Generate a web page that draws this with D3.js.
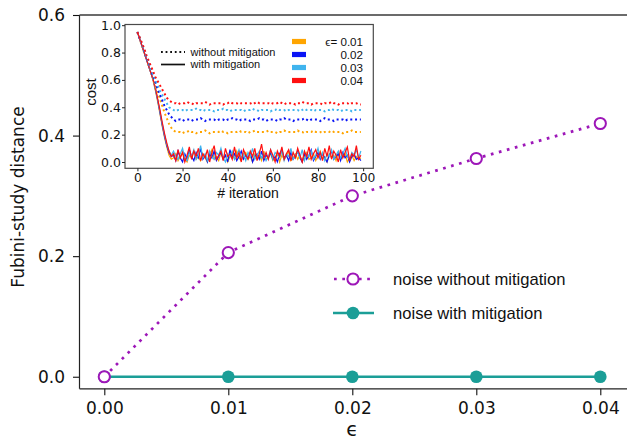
<!DOCTYPE html>
<html><head><meta charset="utf-8">
<script src="https://cdn.jsdelivr.net/npm/d3@7"></script>
<style>body{margin:0;background:#fff}svg{display:block}text{font-family:"DejaVu Sans",sans-serif;fill:#111}</style>
</head><body>
<script>
// ---- main chart data ----
const epsValues = [0.00, 0.01, 0.02, 0.03, 0.04];
const withoutMitigation = [0.0, 0.206, 0.300, 0.362, 0.420];
const withMitigation = [0.0, 0.0, 0.0, 0.0, 0.0];
const mainXTicks = [0.00, 0.01, 0.02, 0.03, 0.04];
const mainYTicks = [0.0, 0.2, 0.4, 0.6];
const mainLegend = ["noise without mitigation", "noise with mitigation"];

// ---- inset data (cost vs iteration) ----
const insetEps = ["0.01", "0.02", "0.03", "0.04"];
const insetXTicks = [0, 20, 40, 60, 80, 100];
const insetYTicks = [0.0, 0.2, 0.4, 0.6, 0.8, 1.0];
const costNoMit001 = [0.95,0.90,0.85,0.80,0.76,0.71,0.66,0.61,0.56,0.51,0.46,0.41,0.36,0.32,0.28,0.25,0.23,
0.22,0.22,0.22,0.21,0.22,0.22,0.23,0.22,0.22,0.21,
0.22,0.22,0.22,0.23,0.22,0.21,0.22,0.22,0.22,0.22,
0.23,0.22,0.22,0.21,0.22,0.22,0.22,0.22,0.23,0.22,
0.22,0.22,0.21,0.22,0.22,0.23,0.22,0.22,0.22,0.22,
0.22,0.23,0.22,0.22,0.22,0.21,0.22,0.22,0.23,0.22,
0.22,0.22,0.22,0.22,0.23,0.22,0.22,0.21,0.22,0.22,
0.22,0.23,0.22,0.22,0.22,0.21,0.22,0.22,0.22,0.23,
0.22,0.22,0.22,0.22,0.21,0.22,0.22,0.22,0.23,0.22,
0.22,0.22,0.22];
const costNoMit002 = [0.95,0.90,0.86,0.81,0.76,0.72,0.67,0.62,0.58,0.53,0.49,0.45,0.41,0.38,0.35,0.33,
0.31,0.30,0.31,0.31,0.30,0.31,0.31,0.31,0.30,0.31,
0.31,0.31,0.32,0.31,0.30,0.31,0.31,0.31,0.31,0.30,
0.31,0.31,0.31,0.30,0.31,0.31,0.32,0.31,0.31,0.30,
0.31,0.31,0.31,0.31,0.30,0.31,0.31,0.31,0.32,0.31,
0.31,0.30,0.31,0.31,0.31,0.31,0.30,0.31,0.31,0.32,
0.31,0.31,0.31,0.30,0.31,0.31,0.31,0.31,0.32,0.31,
0.30,0.31,0.31,0.31,0.31,0.30,0.31,0.32,0.31,0.31,
0.31,0.30,0.31,0.31,0.31,0.31,0.30,0.31,0.31,0.31,
0.31,0.31,0.31,0.31];
const costNoMit003 = [0.95,0.91,0.86,0.82,0.77,0.73,0.68,0.64,0.60,0.56,0.52,0.49,0.46,0.43,0.40,0.39,
0.38,0.37,0.38,0.38,0.38,0.37,0.38,0.38,0.38,0.38,
0.39,0.38,0.38,0.37,0.38,0.38,0.38,0.38,0.37,0.38,
0.38,0.38,0.39,0.38,0.38,0.37,0.38,0.38,0.38,0.38,
0.38,0.37,0.38,0.38,0.38,0.39,0.38,0.38,0.37,0.38,
0.38,0.38,0.38,0.37,0.38,0.38,0.39,0.38,0.38,0.38,
0.37,0.38,0.38,0.38,0.38,0.38,0.37,0.38,0.39,0.38,
0.38,0.38,0.37,0.38,0.38,0.38,0.38,0.37,0.38,0.38,
0.39,0.38,0.38,0.38,0.37,0.38,0.38,0.38,0.38,0.37,
0.38,0.38,0.38,0.38];
const costNoMit004 = [0.95,0.91,0.87,0.83,0.78,0.74,0.70,0.66,0.62,0.59,0.56,0.53,0.50,0.47,0.45,0.44,
0.43,0.43,0.42,0.43,0.43,0.43,0.44,0.43,0.43,0.42,
0.43,0.43,0.43,0.43,0.44,0.43,0.42,0.43,0.43,0.43,
0.43,0.43,0.42,0.43,0.43,0.44,0.43,0.43,0.43,0.42,
0.43,0.43,0.43,0.43,0.43,0.42,0.43,0.44,0.43,0.43,
0.43,0.43,0.43,0.42,0.43,0.43,0.43,0.44,0.43,0.42,
0.43,0.43,0.43,0.43,0.42,0.43,0.43,0.44,0.43,0.43,
0.43,0.42,0.43,0.43,0.43,0.43,0.42,0.43,0.43,0.43,
0.44,0.43,0.43,0.42,0.43,0.43,0.43,0.43,0.42,0.43,
0.43,0.43,0.42,0.42];
const costMit001 = [0.95,0.90,0.85,0.80,0.75,0.70,0.65,0.59,0.52,0.44,0.35,0.26,0.18,0.11,0.05,0.02,
0.03,0.06,0.01,0.04,0.07,0.02,0.00,0.05,0.03,0.08,
0.02,0.04,0.01,0.06,0.03,0.00,0.05,0.09,0.02,0.04,
0.01,0.07,0.03,0.05,0.00,0.04,0.06,0.02,0.08,0.03,
0.01,0.05,0.07,0.02,0.04,0.00,0.06,0.03,0.05,0.01,
0.08,0.02,0.04,0.06,0.01,0.03,0.07,0.00,0.05,0.02,
0.04,0.08,0.01,0.03,0.06,0.02,0.05,0.00,0.04,0.07,
0.02,0.03,0.06,0.01,0.05,0.08,0.02,0.04,0.00,0.06,
0.03,0.05,0.01,0.07,0.02,0.04,0.06,0.00,0.03,0.05,
0.01,0.04,0.02,0.03];
const costMit002 = [0.95,0.90,0.85,0.80,0.75,0.70,0.65,0.60,0.53,0.45,0.36,0.27,0.19,0.12,0.07,0.04,
0.05,0.01,0.08,0.03,0.00,0.06,0.02,0.09,0.04,0.01,
0.07,0.03,0.10,0.02,0.05,0.00,0.06,0.03,0.08,0.01,
0.04,0.07,0.02,0.05,0.00,0.09,0.03,0.06,0.01,0.04,
0.08,0.02,0.05,0.03,0.07,0.00,0.04,0.06,0.02,0.08,
0.01,0.05,0.03,0.07,0.02,0.04,0.00,0.06,0.09,0.03,
0.05,0.01,0.07,0.02,0.04,0.08,0.03,0.00,0.06,0.02,
0.05,0.09,0.01,0.04,0.07,0.02,0.06,0.03,0.00,0.05,
0.08,0.02,0.04,0.06,0.01,0.07,0.03,0.05,0.00,0.04,
0.06,0.02,0.03,0.01];
const costMit003 = [0.95,0.90,0.85,0.80,0.75,0.70,0.65,0.60,0.53,0.45,0.37,0.28,0.20,0.13,0.08,0.05,
0.08,0.04,0.02,0.06,0.10,0.03,0.01,0.07,0.04,0.09,
0.02,0.05,0.12,0.03,0.06,0.01,0.08,0.04,0.02,0.07,
0.05,0.10,0.03,0.00,0.06,0.04,0.08,0.02,0.05,0.09,
0.03,0.06,0.01,0.07,0.04,0.10,0.02,0.05,0.08,0.03,
0.06,0.01,0.04,0.09,0.02,0.07,0.05,0.03,0.08,0.01,
0.06,0.04,0.10,0.02,0.05,0.07,0.03,0.09,0.01,0.06,
0.04,0.08,0.02,0.05,0.10,0.03,0.07,0.01,0.06,0.04,
0.09,0.02,0.05,0.08,0.03,0.06,0.10,0.04,0.02,0.07,
0.05,0.09,0.03,0.08];
const costMit004 = [0.95,0.90,0.85,0.80,0.75,0.70,0.65,0.60,0.54,0.46,0.38,0.29,0.21,0.14,0.08,0.04,
0.06,0.01,0.09,0.03,0.07,0.00,0.05,0.11,0.02,0.08,
0.04,0.10,0.01,0.06,0.03,0.09,0.00,0.07,0.12,0.02,
0.05,0.08,0.01,0.10,0.04,0.06,0.02,0.11,0.03,0.07,
0.00,0.09,0.05,0.02,0.08,0.04,0.10,0.01,0.06,0.13,
0.03,0.07,0.02,0.09,0.05,0.00,0.08,0.04,0.11,0.02,
0.06,0.09,0.01,0.07,0.03,0.10,0.05,0.00,0.08,0.04,
0.11,0.02,0.06,0.09,0.03,0.07,0.01,0.10,0.04,0.12,
0.02,0.08,0.05,0.00,0.09,0.03,0.07,0.11,0.01,0.06,
0.04,0.12,0.02,0.05];

const insetColors = ["#ffa500", "#0a14f5", "#40b4ee", "#ff1010"];
const PURPLE = "#9d17b8", TEAL = "#1b9e97";

const W = 627, H = 441;
const svg = d3.select("body").append("svg").attr("width", W).attr("height", H);

// ---- main axes ----
const x = d3.scaleLinear().domain([0, 0.04]).range([104.3, 600.3]);
const y = d3.scaleLinear().domain([-0.02, 0.6]).range([388.8, 15]);
const LEFT = 79.5, BOTTOM = 388.8;

const yAxis = d3.axisLeft(y).tickValues(mainYTicks).tickFormat(d3.format(".1f")).tickSize(6.5).tickPadding(8);
const gy = svg.append("g").attr("transform", `translate(${LEFT},0)`).call(yAxis);
gy.select(".domain").remove();
gy.selectAll("text").style("font-size", "17px").attr("fill", "#111");
gy.selectAll("line").attr("stroke", "#111").attr("stroke-width", 1.1);

const xAxis = d3.axisBottom(x).tickValues(mainXTicks).tickFormat(d3.format(".2f")).tickSize(6.5).tickPadding(6.5);
const gx = svg.append("g").attr("transform", `translate(0,${BOTTOM})`).call(xAxis);
gx.select(".domain").remove();
gx.selectAll("text").style("font-size", "17px").attr("fill", "#111");
gx.selectAll("line").attr("stroke", "#111").attr("stroke-width", 1.1);

// spines
svg.append("line").attr("x1", LEFT).attr("x2", LEFT).attr("y1", 15).attr("y2", BOTTOM).attr("stroke", "#222").attr("stroke-width", 1.2);
svg.append("line").attr("x1", LEFT).attr("x2", W).attr("y1", BOTTOM).attr("y2", BOTTOM).attr("stroke", "#222").attr("stroke-width", 1.2);
svg.append("line").attr("x1", LEFT).attr("x2", W).attr("y1", 15).attr("y2", 15).attr("stroke", "#3a3a3a").attr("stroke-width", 1.4);

// labels
svg.append("text").attr("transform", "translate(24,197) rotate(-90)").attr("text-anchor", "middle")
  .style("font-size", "17px").text("Fubini-study distance");
svg.append("text").attr("x", x(0.02)).attr("y", 436.2).attr("text-anchor", "middle")
  .style("font-size", "19.5px").text("ϵ");

// lines
const mainLine = d3.line().x((d, i) => x(epsValues[i])).y(d => y(d));
svg.append("path").datum(withMitigation).attr("d", mainLine).attr("fill", "none")
  .attr("stroke", TEAL).attr("stroke-width", 2.3);
svg.selectAll(".tealDot").data(withMitigation).enter().append("circle")
  .attr("cx", (d, i) => x(epsValues[i])).attr("cy", d => y(d)).attr("r", 6.3).attr("fill", TEAL);
svg.append("path").datum(withoutMitigation).attr("d", mainLine).attr("fill", "none")
  .attr("stroke", PURPLE).attr("stroke-width", 2.7).attr("stroke-dasharray", "2.7,5.6");
svg.selectAll(".purpleDot").data(withoutMitigation).enter().append("circle")
  .attr("cx", (d, i) => x(epsValues[i])).attr("cy", d => y(d)).attr("r", 5.6)
  .attr("fill", "#fff").attr("stroke", PURPLE).attr("stroke-width", 2);

// main legend
const lg = svg.append("g");
[[0, 279], [1, 313]].forEach(([k, yy]) => {
  if (k === 0) {
    lg.append("line").attr("x1", 334).attr("x2", 373).attr("y1", yy).attr("y2", yy)
      .attr("stroke", PURPLE).attr("stroke-width", 2.7).attr("stroke-dasharray", "2.7,5.6");
    lg.append("circle").attr("cx", 353).attr("cy", yy).attr("r", 5.6).attr("fill", "#fff").attr("stroke", PURPLE).attr("stroke-width", 2);
  } else {
    lg.append("line").attr("x1", 333).attr("x2", 374).attr("y1", yy).attr("y2", yy).attr("stroke", TEAL).attr("stroke-width", 2.3);
    lg.append("circle").attr("cx", 353).attr("cy", yy).attr("r", 6.3).attr("fill", TEAL);
  }
  lg.append("text").attr("x", 393).attr("y", yy + 5.5).style("font-size", "16.6px")
    .style("font-family", "Liberation Sans, Arial, sans-serif").text(mainLegend[k]);
});

// ---- inset ----
const ix = d3.scaleLinear().domain([-5.5, 104.5]).range([125, 373.3]);
const iy = d3.scaleLinear().domain([-0.046, 1.005]).range([168.3, 24.5]);
const ins = svg.append("g");
ins.append("rect").attr("x", 125).attr("y", 24.5).attr("width", 248.3).attr("height", 143.8)
  .attr("fill", "#fff").attr("stroke", "#4a4a4a").attr("stroke-width", 1.2);

const ixAxis = d3.axisBottom(ix).tickValues(insetXTicks).tickFormat(d3.format("d")).tickSize(3).tickPadding(1.5);
const gix = ins.append("g").attr("transform", "translate(0,168.3)").call(ixAxis);
gix.select(".domain").remove();
gix.selectAll("text").style("font-size", "12.3px").attr("fill", "#111");
gix.selectAll("line").attr("stroke", "#222");
const iyAxis = d3.axisLeft(iy).tickValues(insetYTicks).tickFormat(d3.format(".1f")).tickSize(3).tickPadding(1);
const giy = ins.append("g").attr("transform", "translate(125,0)").call(iyAxis);
giy.select(".domain").remove();
giy.selectAll("text").style("font-size", "12.5px").attr("fill", "#111");
giy.selectAll("line").attr("stroke", "#222");

ins.append("text").attr("transform", "translate(95.5,92) rotate(-90)").attr("text-anchor", "middle")
  .style("font-family", "Liberation Sans, Arial, sans-serif").style("font-size", "15px").text("cost");
ins.append("text").attr("x", 248).attr("y", 198).attr("text-anchor", "middle")
  .style("font-family", "Liberation Sans, Arial, sans-serif").style("font-size", "14px").text("# iteration");

svg.append("clipPath").attr("id", "ic").append("rect").attr("x", 125).attr("y", 24.5).attr("width", 248.3).attr("height", 143.8);
const iline = d3.line().x((d, i) => ix(i)).y(d => iy(d));
const solidSeries = [costMit001, costMit002, costMit003, costMit004];
const dottedSeries = [costNoMit001, costNoMit002, costNoMit003, costNoMit004];
const plotG = ins.append("g").attr("clip-path", "url(#ic)");
solidSeries.forEach((s, k) => {
  plotG.append("path").datum(s).attr("d", iline).attr("fill", "none").attr("stroke", insetColors[k]).attr("stroke-width", 1.2);
});
dottedSeries.forEach((s, k) => {
  plotG.append("path").datum(s).attr("d", iline).attr("fill", "none").attr("stroke", insetColors[k])
    .attr("stroke-width", 2).attr("stroke-dasharray", "2,2.8");
});

// inset legends
const LF = "Liberation Sans, Arial, sans-serif";
ins.append("line").attr("x1", 161).attr("x2", 185).attr("y1", 52).attr("y2", 52)
  .attr("stroke", "#111").attr("stroke-width", 1.8).attr("stroke-dasharray", "1.8,2.8");
ins.append("line").attr("x1", 161).attr("x2", 185).attr("y1", 64.5).attr("y2", 64.5)
  .attr("stroke", "#111").attr("stroke-width", 1.7);
ins.append("text").attr("x", 190.5).attr("y", 55.8).style("font-family", LF).style("font-size", "11px").text("without mitigation");
ins.append("text").attr("x", 190.5).attr("y", 68.3).style("font-family", LF).style("font-size", "11px").text("with mitigation");

insetEps.forEach((e, k) => {
  const yy = 41.5 + k * 13;
  ins.append("rect").attr("x", 292).attr("y", yy - 2.6).attr("width", 14).attr("height", 5.2).attr("fill", insetColors[k]);
  ins.append("text").attr("x", 363).attr("y", yy + 4.3).attr("text-anchor", "end")
    .style("font-family", LF).style("font-size", "11.6px")
    .text(k === 0 ? "ϵ= " + e : e);
});
</script>
</body></html>
